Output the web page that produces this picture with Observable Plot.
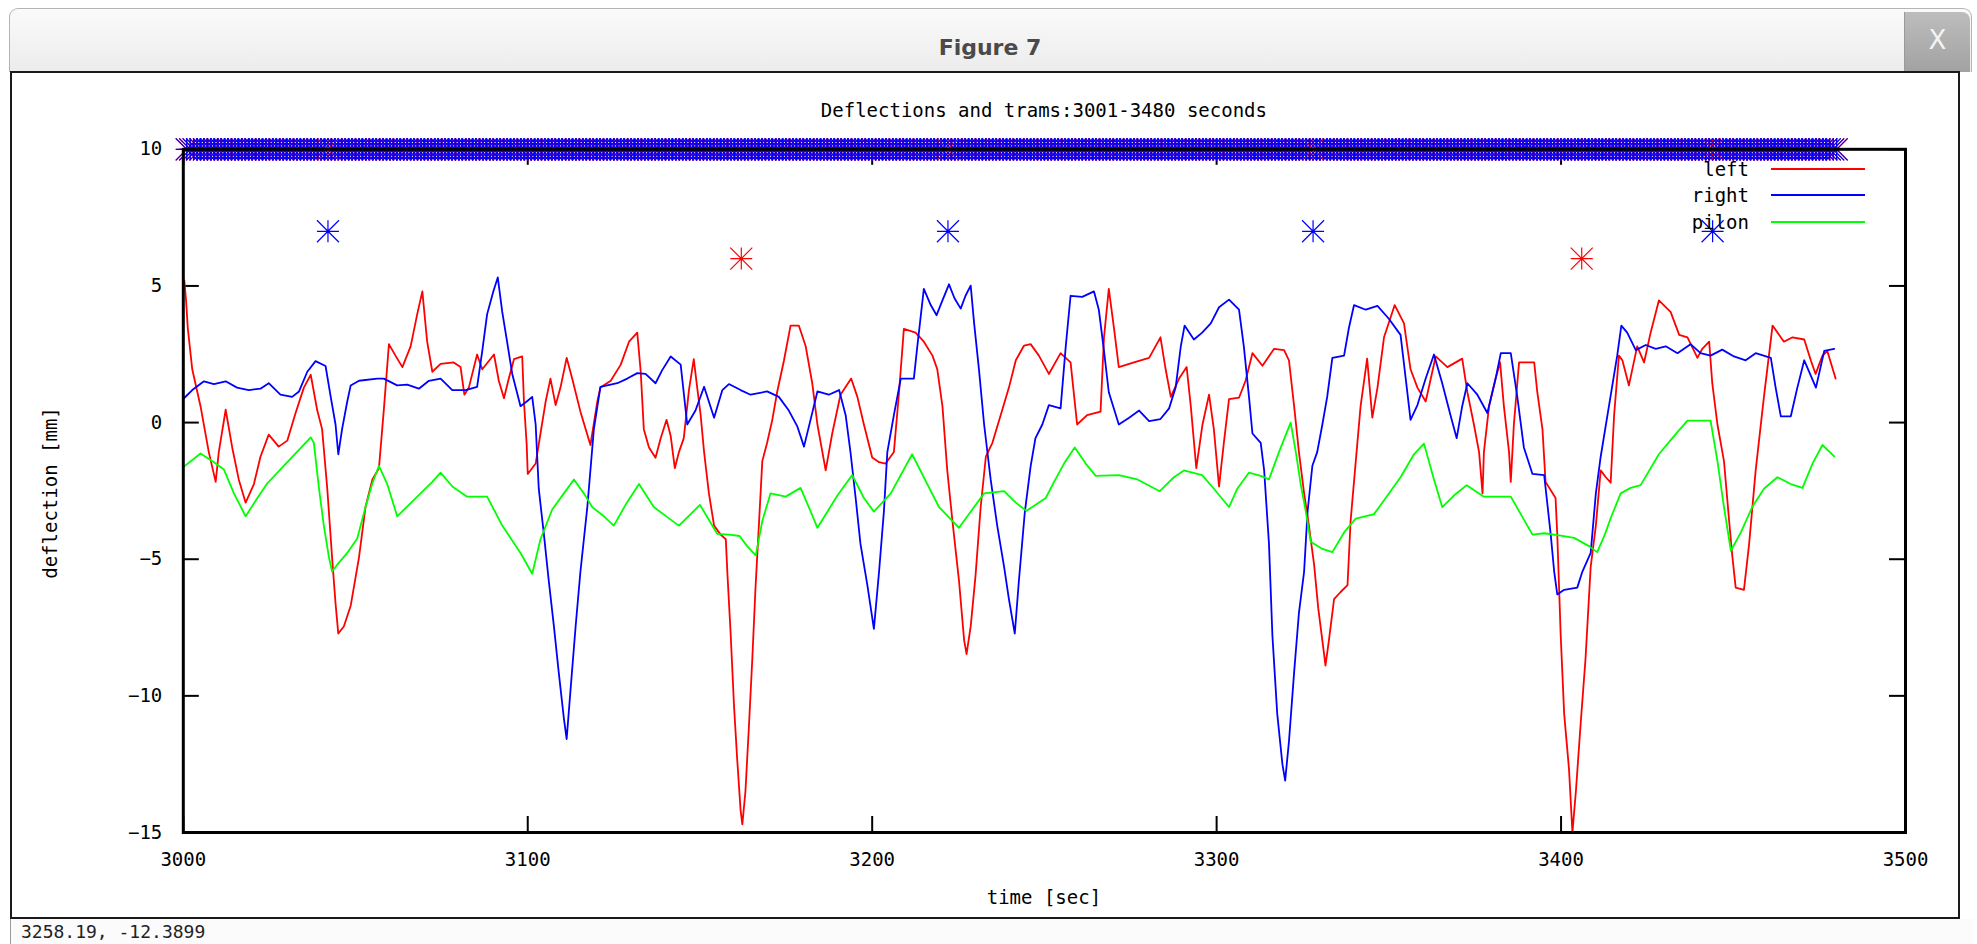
<!DOCTYPE html>
<html>
<head>
<meta charset="utf-8">
<script src="https://cdn.jsdelivr.net/npm/d3@7"></script>
<script src="https://cdn.jsdelivr.net/npm/@observablehq/plot@0.6"></script>
<style>
html, body { margin: 0; padding: 0; background: #ffffff; }
#win { position: relative; width: 1977px; height: 944px; overflow: hidden; background: #ffffff; font-family: "DejaVu Sans Mono", monospace; }
#titlebar { position: absolute; left: 9px; top: 8px; width: 1963px; height: 64px; box-sizing: border-box;
  border: 1px solid #b4b4b4; border-bottom: none; border-radius: 9px 9px 0 0;
  background: linear-gradient(#fafafa, #ececec); }
#wtitle { position: absolute; left: 0; width: 1960px; top: 26px; text-align: center;
  font-family: "DejaVu Sans", sans-serif; font-weight: bold; font-size: 22px; color: #4a4a4a; }
#closebtn { position: absolute; left: 1904px; top: 12px; width: 66px; height: 60px; box-sizing: border-box;
  border-radius: 0 8px 0 0; background: linear-gradient(#bdbdbd, #a2a2a2); border-left: 1px solid #9a9a9a;
  color: #f4f4f4; font-family: "DejaVu Sans", sans-serif; font-size: 26px; text-align: center; line-height: 56px; }
#canvas { position: absolute; left: 10px; top: 71px; width: 1950px; height: 848px; box-sizing: border-box;
  border: 2px solid #1a1a1a; background: #ffffff; }
#status { position: absolute; left: 10px; top: 919px; width: 1962px; height: 25px; background: #fbfbfb;
  border-left: 1px solid #9a9a9a; }
#statustext { position: absolute; left: 10px; top: 2px; font-size: 18px; color: #222; }
#plot { position: absolute; left: 12px; top: 73px; }
.txt { position: absolute; font-family: "DejaVu Sans Mono", monospace; font-size: 19px; color: #000; white-space: nowrap; line-height: 1; }
.leg { position: absolute; height: 2px; }
</style>
</head>
<body>
<div id="win">
  <div id="titlebar"><div id="wtitle">Figure 7</div></div>
  <div id="closebtn">X</div>
  <div id="canvas"></div>
  <div id="plot"></div>
  <div id="status"><div id="statustext">3258.19, -12.3899</div></div>
</div>
<script>
// ---------- data ----------
const chartTitle = "Deflections and trams:3001-3480 seconds";
const xLabel = "time [sec]";
const yLabel = "deflection [mm]";
const xTicks = [3000, 3100, 3200, 3300, 3400, 3500];
const yTicks = [-15, -10, -5, 0, 5, 10];
const seriesNames = ["left", "right", "pilon"];
const seriesColors = ["#ff0000", "#0000ff", "#00ff00"];

const leftSeries = [[3000.3,5.2],[3000.8,4.47],[3001.3,3.46],[3002.6,1.95],[3005,0.6],[3007.4,-1.08],[3009.4,-2.17],[3010.3,-1.08],[3012.3,0.47],[3014.2,-0.91],[3016.1,-2.08],[3018.1,-2.93],[3020.5,-2.25],[3022.4,-1.25],[3024.8,-0.44],[3027.7,-0.88],[3030.2,-0.66],[3032.6,0.35],[3035,1.28],[3037,1.75],[3038.9,0.44],[3040.3,-0.24],[3041.8,-2.42],[3043.2,-4.94],[3044.2,-6.62],[3045,-7.72],[3046.6,-7.46],[3048.6,-6.7],[3051,-4.94],[3052.9,-3.09],[3054.9,-2.08],[3056.8,-1.67],[3058.2,0.44],[3059.7,2.87],[3061.6,2.45],[3063.6,2.03],[3066,2.79],[3067.9,3.96],[3069.4,4.8],[3070.8,2.96],[3072.3,1.86],[3074.7,2.15],[3078.5,2.2],[3080.5,2.03],[3081.6,1.02],[3082.9,1.28],[3085.3,2.49],[3086.8,1.95],[3090.2,2.49],[3091.6,1.53],[3093.1,0.89],[3094.5,1.61],[3096,2.32],[3098.4,2.42],[3098.9,0.77],[3099.7,-0.82],[3100,-1.88],[3102.3,-1.5],[3103.7,-0.4],[3105.2,0.77],[3106.6,1.61],[3108.1,0.64],[3109.5,1.28],[3111.3,2.37],[3112.9,1.61],[3115.3,0.4],[3118.2,-0.82],[3120.2,0.77],[3121.1,1.28],[3124.1,1.53],[3127,2.12],[3129.4,2.96],[3131.8,3.29],[3132.8,1.86],[3133.7,-0.24],[3135.2,-0.91],[3137.1,-1.29],[3138.6,-0.57],[3140.3,0.1],[3141.5,-0.49],[3142.7,-1.67],[3143.9,-1.08],[3145.3,-0.57],[3146.8,1.19],[3148.2,2.32],[3149.2,1.28],[3150.2,0.27],[3151.2,-1.08],[3152.6,-2.59],[3154.1,-3.77],[3156,-4.1],[3157.5,-4.27],[3158,-5.6],[3158.9,-7.7],[3159.9,-10.4],[3160.8,-12.3],[3161.8,-14.19],[3162.3,-14.7],[3163.2,-13.5],[3164.2,-11.16],[3165.2,-8.64],[3166.1,-6.12],[3167.1,-3.77],[3168.1,-1.41],[3169.5,-0.74],[3171,0.1],[3172.4,1.11],[3174.4,2.28],[3176.3,3.55],[3178.7,3.55],[3180.7,2.79],[3182.6,1.44],[3184.1,-0.07],[3186.5,-1.75],[3188.4,-0.4],[3190.8,1.02],[3193.9,1.61],[3195.7,0.94],[3197.6,-0.07],[3200,-1.28],[3202,-1.45],[3203.9,-1.5],[3206.3,-1.08],[3207.8,1.11],[3209.2,3.43],[3212.6,3.29],[3215,2.96],[3217.5,2.45],[3218.9,1.95],[3220.4,0.6],[3221.8,-1.75],[3223.3,-3.6],[3225.2,-5.78],[3226.7,-7.97],[3227.4,-8.47],[3228.6,-7.46],[3230,-5.61],[3231.5,-3.09],[3233,-1.25],[3234.9,-0.74],[3237.3,0.27],[3239.7,1.28],[3241.7,2.28],[3244.1,2.82],[3246,2.87],[3248.4,2.45],[3251.3,1.78],[3254.7,2.54],[3257.6,2.2],[3259.5,-0.07],[3262.4,0.27],[3266.3,0.4],[3267.3,3.12],[3268.7,4.89],[3270.2,3.46],[3271.6,2.03],[3276,2.2],[3280.4,2.37],[3283.7,3.12],[3285.2,1.95],[3286.7,0.94],[3289.1,1.61],[3291.3,2.03],[3292.5,0.6],[3294.1,-1.67],[3295.9,-0.07],[3297.8,1.02],[3299.2,-0.24],[3300.7,-2.34],[3302.1,-0.74],[3303.6,0.86],[3306.5,0.91],[3308.4,1.53],[3310.4,2.54],[3313.3,2.08],[3316.7,2.7],[3319.6,2.65],[3321,2.28],[3322.5,0.6],[3323.9,-1.08],[3325.4,-2.59],[3326.8,-3.77],[3328.3,-5.2],[3329.5,-6.79],[3331.2,-8.47],[3331.6,-8.89],[3332.6,-7.97],[3334.1,-6.46],[3336,-6.2],[3338,-5.95],[3338.9,-3.6],[3340.4,-1.41],[3341.8,0.6],[3343.7,2.34],[3345.2,0.18],[3346.7,1.28],[3348.6,3.12],[3351.7,4.3],[3354.4,3.63],[3356.3,1.95],[3358.3,1.28],[3360.7,0.77],[3363.6,2.42],[3367,2.03],[3371.3,2.34],[3372.8,1.11],[3374.7,-0.07],[3376.2,-1.08],[3377.2,-2.59],[3377.6,-1.08],[3379.1,0.6],[3381,1.61],[3382.3,2.2],[3383.4,0.6],[3384.9,-1.08],[3385.4,-2.17],[3386.3,-0.07],[3387.8,2.2],[3392.2,2.2],[3393.1,1.11],[3394.6,-0.24],[3395.5,-2.17],[3398.4,-2.76],[3398.9,-4.1],[3399.9,-7.8],[3400.9,-10.66],[3402.3,-12.67],[3403.3,-15.0],[3404.3,-13.5],[3405.7,-11],[3407.1,-8.64],[3408.6,-5.28],[3410.1,-3.77],[3411.5,-1.75],[3413,-2.0],[3414.4,-2.2],[3415.4,0.27],[3416.8,2.45],[3417.8,2.28],[3419.7,1.36],[3422.1,2.79],[3424.1,2.2],[3426,3.29],[3428.4,4.47],[3431.8,4.05],[3434.3,3.21],[3436.7,3.12],[3439.6,2.37],[3441,2.7],[3443,2.96],[3443.9,1.44],[3445.4,-0.07],[3447.3,-1.41],[3448.8,-3.6],[3449.7,-4.86],[3450.7,-6.04],[3453.1,-6.12],[3454.6,-4.44],[3456.5,-1.75],[3458.9,0.94],[3461.4,3.55],[3464.7,2.96],[3467.2,3.12],[3470.6,3.04],[3472.5,2.28],[3473.9,1.78],[3475.9,2.45],[3477.3,2.62],[3479.7,1.61]];

const rightSeries = [[3000.2,0.89],[3002.6,1.19],[3006,1.51],[3008.9,1.41],[3012.3,1.51],[3015.6,1.28],[3019,1.19],[3022.4,1.24],[3024.8,1.44],[3028.2,1.02],[3031.6,0.94],[3033.6,1.14],[3036,1.86],[3038.4,2.25],[3041.3,2.07],[3042.8,0.94],[3044.2,-0.07],[3045,-1.16],[3046.1,-0.24],[3047.6,0.77],[3048.6,1.36],[3051,1.53],[3056.3,1.61],[3058.2,1.61],[3062.1,1.36],[3065,1.39],[3068.4,1.24],[3071.3,1.53],[3074.7,1.61],[3078.1,1.19],[3082,1.19],[3085.3,1.31],[3086.8,2.62],[3088.2,3.96],[3090,4.8],[3091.3,5.31],[3092.6,4.05],[3094,2.96],[3095.5,1.78],[3097.9,0.6],[3099.7,0.77],[3101.3,0.94],[3102.3,-0.07],[3103.2,-2.42],[3104.7,-4.1],[3106.1,-5.78],[3107.6,-7.46],[3109,-9.14],[3110.5,-10.83],[3111.3,-11.58],[3112.4,-9.82],[3113.9,-7.46],[3115.3,-5.45],[3117.3,-3.09],[3119.2,-0.24],[3121.1,1.31],[3126,1.44],[3128.9,1.61],[3131.8,1.81],[3134.2,1.78],[3137.1,1.44],[3139,1.91],[3141.5,2.42],[3144.4,2.12],[3146.3,-0.07],[3148.7,0.44],[3151.2,1.31],[3154.1,0.18],[3156.5,1.19],[3158.4,1.41],[3161.8,1.19],[3164.7,1.02],[3169.5,1.14],[3172.9,0.94],[3175.8,0.44],[3178.3,-0.15],[3180.2,-0.88],[3182.1,0.1],[3184.1,1.14],[3187.4,1.02],[3190.4,1.19],[3192.3,0.27],[3193.7,-1.08],[3195.2,-2.76],[3196.6,-4.44],[3198.6,-5.95],[3200.5,-7.55],[3202,-5.45],[3203.4,-3.26],[3204.4,-1.08],[3206.3,0.27],[3208.3,1.61],[3212.1,1.61],[3213.1,2.79],[3215,4.89],[3217,4.3],[3218.7,3.93],[3220.4,4.47],[3222.3,5.06],[3223.9,4.55],[3225.7,4.17],[3227.1,4.64],[3228.6,5.01],[3229.6,3.63],[3231,1.95],[3232.5,-0.07],[3234.4,-2.08],[3236.3,-3.77],[3238.3,-5.28],[3239.7,-6.46],[3241.4,-7.72],[3242.6,-5.78],[3244.3,-3.3],[3246,-1.6],[3247.4,-0.57],[3249.4,-0.07],[3251.3,0.64],[3254.7,0.52],[3256.2,2.79],[3257.6,4.64],[3261,4.6],[3264.4,4.8],[3265.8,4.13],[3267.3,2.62],[3268.7,1.11],[3271.6,-0.07],[3274.6,0.18],[3277.5,0.44],[3280.4,0.05],[3283.7,0.13],[3286.2,0.52],[3288.1,1.28],[3289.6,2.79],[3290.7,3.55],[3293.4,3.04],[3295.8,3.29],[3298.3,3.63],[3300.7,4.22],[3303.6,4.5],[3306.5,4.13],[3307.9,2.79],[3309.4,0.94],[3310.4,-0.4],[3312.8,-0.74],[3313.8,-1.75],[3315.2,-4.44],[3316.2,-7.8],[3317.6,-10.66],[3319.1,-12.5],[3319.9,-13.1],[3321,-11.67],[3322.5,-9.14],[3323.9,-6.96],[3325.4,-5.45],[3326.4,-3.26],[3327.8,-1.58],[3329.2,-1.08],[3330.7,-0.07],[3332.1,0.94],[3333.6,2.37],[3337,2.45],[3338.4,3.46],[3339.9,4.3],[3343.3,4.13],[3346.7,4.27],[3350,3.8],[3353.4,3.21],[3354.9,1.61],[3356.3,0.1],[3358.3,0.64],[3360.7,1.61],[3363.1,2.49],[3365.5,1.44],[3367.9,0.27],[3369.7,-0.57],[3371.3,0.6],[3372.8,1.44],[3375.7,1.02],[3378.6,0.35],[3381,1.61],[3382.5,2.54],[3385.4,2.54],[3387.3,0.94],[3389.2,-0.91],[3391.7,-1.88],[3395.1,-1.92],[3397,-4.1],[3398,-5.45],[3398.9,-6.29],[3400.9,-6.12],[3404.7,-6.04],[3406.2,-5.45],[3408.6,-4.77],[3410.1,-2.59],[3411.5,-1.25],[3413.9,0.6],[3416.3,2.45],[3417.5,3.55],[3419.2,3.29],[3421.7,2.65],[3424.6,2.84],[3427.5,2.7],[3430.4,2.79],[3433.8,2.54],[3437.6,2.87],[3440.5,2.54],[3443.4,2.45],[3446.8,2.67],[3450.2,2.42],[3453.6,2.28],[3456.5,2.54],[3460.9,2.37],[3462.3,1.28],[3463.8,0.23],[3466.7,0.23],[3468.6,1.28],[3470.6,2.28],[3474,1.28],[3476.4,2.62],[3479.3,2.7]];

const pilonSeries = [[3000,-1.63],[3005,-1.13],[3008.9,-1.45],[3011.8,-1.72],[3014.7,-2.59],[3018.1,-3.43],[3021.5,-2.76],[3024.4,-2.22],[3031.1,-1.33],[3037,-0.54],[3037.9,-0.74],[3039.4,-2.42],[3040.8,-3.77],[3042.3,-4.94],[3043.2,-5.45],[3044.7,-5.2],[3047.6,-4.77],[3050.5,-4.24],[3052.9,-3.09],[3054.9,-2.22],[3056.8,-1.58],[3059.2,-2.25],[3062.1,-3.43],[3065.5,-3.01],[3068.9,-2.59],[3072.3,-2.17],[3074.7,-1.83],[3078.1,-2.34],[3082.4,-2.71],[3088.2,-2.71],[3092.6,-3.77],[3097.9,-4.77],[3101.3,-5.53],[3103.7,-4.27],[3107.1,-3.18],[3110.5,-2.59],[3113.4,-2.08],[3116.3,-2.59],[3118.7,-3.09],[3122.1,-3.43],[3125,-3.77],[3128.4,-3.01],[3132.3,-2.25],[3136.6,-3.09],[3140.5,-3.46],[3143.9,-3.77],[3147.3,-3.35],[3150,-3.01],[3155,-4.07],[3158.6,-4.1],[3161.5,-4.15],[3163.7,-4.52],[3166.2,-4.86],[3168.1,-3.6],[3170.5,-2.59],[3174.9,-2.71],[3179.2,-2.39],[3181.6,-3.09],[3184.1,-3.85],[3187,-3.26],[3189.9,-2.67],[3194.2,-1.92],[3197.6,-2.76],[3200.5,-3.26],[3205.4,-2.59],[3211.6,-1.16],[3216,-2.25],[3219.4,-3.09],[3225.2,-3.85],[3228.6,-3.26],[3232.5,-2.59],[3238.3,-2.51],[3241.7,-2.93],[3244.8,-3.23],[3250.4,-2.76],[3252.8,-2.17],[3255.7,-1.5],[3258.8,-0.91],[3262,-1.5],[3264.9,-1.95],[3271.6,-1.92],[3277,-2.08],[3283.5,-2.51],[3287.6,-2.0],[3290.5,-1.75],[3295.8,-1.92],[3299.2,-2.42],[3303.6,-3.09],[3306,-2.42],[3309.4,-1.83],[3312.8,-1.95],[3315.2,-2.08],[3318.1,-1.08],[3321.5,0],[3323,-1.08],[3324.4,-2.25],[3325.9,-3.26],[3327.3,-4.36],[3330.5,-4.61],[3333.6,-4.74],[3337,-4.02],[3340.4,-3.51],[3345.7,-3.35],[3349.6,-2.67],[3353.4,-2.0],[3357.3,-1.16],[3360.2,-0.77],[3363.1,-2.08],[3365.5,-3.09],[3368.9,-2.67],[3372.6,-2.29],[3377.6,-2.71],[3385.4,-2.71],[3388.3,-3.35],[3391.7,-4.1],[3395.1,-4.05],[3399.9,-4.14],[3403.8,-4.22],[3408.1,-4.52],[3410.5,-4.74],[3412.7,-4.1],[3414.4,-3.5],[3417.3,-2.59],[3420.2,-2.39],[3423.1,-2.29],[3428.4,-1.16],[3432.3,-0.57],[3436.7,0.07],[3443.4,0.07],[3445.4,-1.41],[3447.3,-3.09],[3449.3,-4.69],[3452.2,-4.02],[3455.5,-3.09],[3458.9,-2.42],[3462.8,-2.0],[3466.7,-2.25],[3470.1,-2.39],[3473,-1.5],[3475.9,-0.82],[3479.3,-1.24]];

// tram markers: one sample per second, idle at level 10, tram passages at lower levels
const tramStart = 3001, tramEnd = 3480;
const idleLevel = 10;
const leftTramTimes = [3162, 3406];
const leftTramLevel = 6;
const rightTramTimes = [3042, 3222, 3328, 3444];
const rightTramLevel = 7;

// ---------- build ----------
const toRows = s => s.map(([t, v]) => ({t, v}));
const tramSeconds = d3.range(tramStart, tramEnd + 1);
const leftTrams = tramSeconds.map(t => ({t, v: leftTramTimes.includes(t) ? leftTramLevel : idleLevel}));
const rightTrams = tramSeconds.map(t => ({t, v: rightTramTimes.includes(t) ? rightTramLevel : idleLevel}));

// gnuplot-style star (+ and x)
const gpStar = {
  draw(ctx, size) {
    const r = Math.sqrt(size / Math.PI);
    ctx.moveTo(-r, 0); ctx.lineTo(r, 0);
    ctx.moveTo(0, -r); ctx.lineTo(0, r);
    ctx.moveTo(-r, -r); ctx.lineTo(r, r);
    ctx.moveTo(-r, r); ctx.lineTo(r, -r);
  }
};

const W = 1944, H = 843;
const mL = 170.8, mR = 51, mT = 75.8, mB = 84;
const frameW = W - mL - mR, frameH = H - mT - mB;
const tickLen = 16;

const chart = Plot.plot({
  width: W, height: H,
  marginLeft: mL, marginRight: mR, marginTop: mT, marginBottom: mB,
  style: {fontFamily: "'DejaVu Sans Mono', monospace", fontSize: "19px", background: "transparent", color: "#000", overflow: "visible"},
  x: {domain: [3000, 3500]},
  y: {domain: [-15, 10]},
  marks: [
    Plot.axisX({ticks: xTicks, tickSize: 0, tickPadding: 20, label: null, tickFormat: d => String(d)}),
    Plot.axisY({ticks: yTicks, tickSize: 0, tickPadding: 21, label: null}),
    // inward ticks on all four sides
    Plot.ruleY(yTicks, {y: d => d, insetRight: frameW - tickLen, stroke: "#000", strokeWidth: 2}),
    Plot.ruleY(yTicks, {y: d => d, insetLeft: frameW - tickLen, stroke: "#000", strokeWidth: 2}),
    Plot.ruleX(xTicks, {x: d => d, insetTop: frameH - tickLen, stroke: "#000", strokeWidth: 2}),
    Plot.ruleX(xTicks, {x: d => d, insetBottom: frameH - tickLen, stroke: "#000", strokeWidth: 2}),
    Plot.line(toRows(leftSeries), {x: "t", y: "v", stroke: seriesColors[0], strokeWidth: 1.8, clip: true}),
    Plot.line(toRows(rightSeries), {x: "t", y: "v", stroke: seriesColors[1], strokeWidth: 1.8, clip: true}),
    Plot.line(toRows(pilonSeries), {x: "t", y: "v", stroke: seriesColors[2], strokeWidth: 1.8, clip: true}),
    Plot.dot(leftTrams, {x: "t", y: "v", r: 11, symbol: gpStar, fill: "none", stroke: seriesColors[0], strokeWidth: 1.2}),
    Plot.dot(rightTrams, {x: "t", y: "v", r: 11, symbol: gpStar, fill: "none", stroke: seriesColors[1], strokeWidth: 1.2}),
    Plot.frame({stroke: "#000", strokeWidth: 3})
  ]
});
document.getElementById("plot").appendChild(chart);

// ---------- texts and legend ----------
const win = document.getElementById("win");
const plotLeft = 12, plotTop = 73;
function addText(str, x, y, anchor) {
  const d = document.createElement("div");
  d.className = "txt";
  d.textContent = str;
  d.style.left = x + "px";
  d.style.top = y + "px";
  const tx = anchor === "end" ? "-100%" : anchor === "middle" ? "-50%" : "0";
  d.style.transform = `translate(${tx}, -50%)`;
  win.appendChild(d);
  return d;
}
const cx = plotLeft + mL + frameW / 2;
addText(chartTitle, cx, 110, "middle");
addText(xLabel, cx, 897, "middle");
const yl = document.createElement("div");
yl.className = "txt";
yl.textContent = yLabel;
yl.style.left = "50px"; yl.style.top = "493px";
yl.style.transform = "translate(-50%, -50%) rotate(-90deg)";
win.appendChild(yl);

const legendY = [169, 195, 222];
seriesNames.forEach((name, i) => {
  addText(name, 1749, legendY[i], "end");
  const l = document.createElement("div");
  l.className = "leg";
  l.style.left = "1771px"; l.style.width = "94px";
  l.style.top = (legendY[i] - 1) + "px";
  l.style.background = seriesColors[i];
  win.appendChild(l);
});
</script>
</body>
</html>
